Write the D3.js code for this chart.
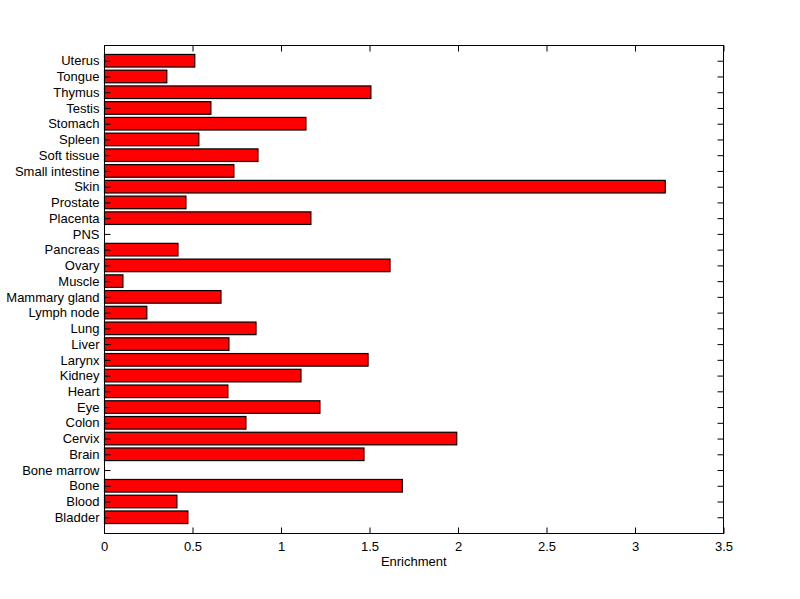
<!DOCTYPE html>
<html><head><meta charset="utf-8">
<script src="https://cdn.jsdelivr.net/npm/d3@7"></script>
<style>body{margin:0;background:#fff;} svg{display:block;} text{font-family:"Liberation Sans",Arial,sans-serif;font-size:13px;fill:#000;}</style>
</head><body>
<svg id="c" width="800" height="599"></svg>
<script>
const categories = ["Bladder","Blood","Bone","Bone marrow","Brain","Cervix","Colon","Eye","Heart","Kidney","Larynx","Liver","Lung","Lymph node","Mammary gland","Muscle","Ovary","Pancreas","PNS","Placenta","Prostate","Skin","Small intestine","Soft tissue","Spleen","Stomach","Testis","Thymus","Tongue","Uterus"];
const values = [0.471,0.409,1.683,0,1.466,1.99,0.799,1.217,0.697,1.11,1.489,0.703,0.856,0.239,0.658,0.104,1.613,0.415,0,1.166,0.46,3.168,0.731,0.867,0.533,1.138,0.601,1.505,0.352,0.51];
const xTicks = [0,0.5,1,1.5,2,2.5,3,3.5];
const xLabel = "Enrichment";

const svg = d3.select("#c");
const L=104, R=723.5, T=45, B=533;
const x = d3.scaleLinear().domain([0,3.5]).range([L,R]);
const y = d3.scaleLinear().domain([0,categories.length+1]).range([B,T]);
const step = y(0)-y(1);
const bh = step*0.8;

// bars
svg.append("g").selectAll("rect").data(values).join("rect")
  .attr("x", x(0)+0.5)
  .attr("y", (d,i)=>y(i+1)-bh/2)
  .attr("width", d=>Math.max(0,x(d)-x(0)))
  .attr("height", bh)
  .attr("fill", d=>d>0?"#ff0000":"none")
  .attr("stroke", d=>d>0?"#000":"none")
  .attr("stroke-width",1.2);

// box
svg.append("rect").attr("x",L+0.5).attr("y",T+0.5).attr("width",R-L-0.5).attr("height",B-T)
  .attr("fill","none").attr("stroke","#000").attr("stroke-width",1);

// x axis bottom (ticks inward)
const xb = svg.append("g").attr("transform",`translate(0,${B+0.5})`)
  .call(d3.axisBottom(x).tickValues(xTicks).tickSize(-6).tickPadding(8).tickFormat(d3.format("")));
xb.select(".domain").remove();
const xt = svg.append("g").attr("transform",`translate(0,${T+0.5})`)
  .call(d3.axisTop(x).tickValues(xTicks).tickSize(-6).tickFormat(""));
xt.select(".domain").remove();

// y axis left
const yl = svg.append("g").attr("transform",`translate(${L+0.5},0)`)
  .call(d3.axisLeft(y).tickValues(d3.range(1,categories.length+1)).tickSize(-6).tickPadding(5)
    .tickFormat(d=>categories[d-1]));
yl.select(".domain").remove();
const yr = svg.append("g").attr("transform",`translate(${R},0)`)
  .call(d3.axisRight(y).tickValues(d3.range(1,categories.length+1)).tickSize(-6).tickFormat(""));
yr.select(".domain").remove();
svg.selectAll(".tick line").attr("stroke","#000");
svg.selectAll("g").attr("font-family",null).attr("font-size",null);

svg.append("text").attr("x",(L+R)/2).attr("y",566).attr("text-anchor","middle").text(xLabel);
</script>
</body></html>
